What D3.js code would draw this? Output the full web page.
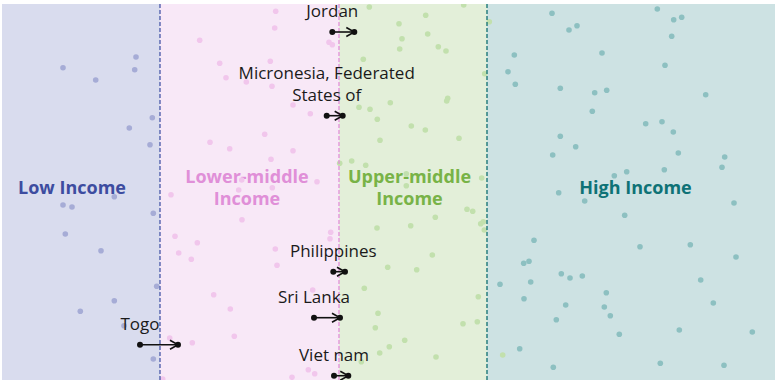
<!DOCTYPE html>
<html><head><meta charset="utf-8">
<script src="https://cdn.jsdelivr.net/npm/d3@7"></script>
<style>body{margin:0;background:#fff}svg{display:block}</style>
</head><body><div id="chart"></div>
<script>
// Income groups (band edges in chart x-units)
const groups = ["Low Income", "Lower-middle Income", "Upper-middle Income", "High Income"];
const groupLabels = [["Low Income"], ["Lower-middle", "Income"], ["Upper-middle", "Income"], ["High Income"]];
const groupLabelX = [72, 247, 409.5, 635.5];
const bandEdges = [2, 160, 339, 487, 775];
const bandFill = ["#d9dcee", "#f8e8f7", "#e3efd9", "#cde2e3"];
const dotFill = ["#a6acd6", "#f1c6ec", "#c2e0ad", "#8dc0c1"];
const lineColor = ["#4757a8", "#e08fd8", "#0f6f72"];
const labelColor = ["#3d4ca0", "#e08fd8", "#78b347", "#0e7276"];

// Country dots: [x, y], per group
const lowDots = [[63,67.7],[95.7,80],[136,57],[134.7,69.7],[152.3,117.7],[129.3,128],[150,144.7],[114.3,196.7],[63,205],[72,207],[153.3,213.3],[65.3,234],[101,250.7],[156.7,286.3],[114.3,300.7],[80.3,311.3],[124,325.7],[153.3,359]];
const lowerMiddleDots = [[199.7,40.3],[219.7,63.3],[226,77.7],[246.3,82],[210,142.3],[229.7,148.7],[241.7,180],[171,194.7],[238.7,190],[242,219.7],[175,236.3],[197.3,242.7],[178.7,253],[191.3,259.3],[213.7,294.7],[230.3,309],[169.7,338],[192.3,342.7],[234.3,336.3],[162.7,379],[275.7,11.3],[274.7,28],[329,42.3],[332.3,44.7],[270.3,61.3],[272,86.3],[293,105],[310.3,113.7],[264.7,134.3],[293,150.7],[271,159.3],[317,181.7],[272.3,187.7],[330.7,232.3],[330,238.7],[275.3,249],[277,265.3],[312.7,290],[308.3,369.7],[314.7,373.7],[292,377.3]];
const upperMiddleDots = [[369.3,7],[463.7,5],[425.7,15.3],[399,23.7],[427.7,34],[402,38.7],[399.7,49],[438.3,46.7],[446,51],[363.3,59.3],[484.7,73.7],[489.3,21.7],[447.7,98.3],[446.7,101],[390.3,102.7],[359,107.3],[370,109.3],[377.3,119.3],[411.3,126],[425.3,130],[459,138.3],[380,140.3],[339.7,163.3],[351.7,161],[365.7,165.3],[406.3,173.7],[481.7,178],[406.3,185.7],[467,209.3],[472.7,211.3],[435.3,217.3],[480.7,223.7],[483.3,221.7],[484.3,230],[377,228],[410.7,225.7],[432.3,255],[387.7,267.3],[416.7,269.7],[364.3,288.3],[478.3,296.7],[378,313.3],[375.3,327.7],[463,323.7],[477.3,321.7],[404.7,340.3],[389.3,346.7],[379.7,353],[436,357],[361.3,361.7],[502.7,355]];
const highDots = [[552,13.3],[657.3,9],[673.7,19.7],[681.7,17.3],[569,30],[577,25.7],[671.7,36.3],[514.3,55],[602,53],[508,71.7],[665,65.3],[515.3,84.3],[560.3,88.3],[594.7,92.7],[606.7,90.3],[705.7,94.7],[592.3,111.3],[645.7,123.7],[662,121.7],[673.3,132],[560.3,136.3],[575.7,146.7],[552.7,155],[678.3,153],[724.7,157],[722,167.3],[664.3,169.7],[626.7,171.7],[614.3,175.7],[558.7,192.7],[584.7,201],[734,203],[624.7,215.3],[534,240.3],[640,246.7],[690.3,244.7],[736,257],[523.7,263.3],[529,261.3],[561.3,273.7],[570,278],[582.3,276],[700.7,280],[500,284.3],[530.7,282],[606.3,292.7],[524,298.7],[565.7,305],[604.3,307],[713.3,303],[610.3,315.7],[556.3,319.7],[619.3,334.3],[679.3,330],[752.3,332],[519.7,348.7],[660.3,363.3],[553.3,367.3],[724,365.3]];
const dotSets = [lowDots, lowerMiddleDots, upperMiddleDots, highDots];

// Countries that changed group: name lines, from x, to x, y
const movers = ["Jordan", "Micronesia, Federated|States of", "Philippines", "Sri Lanka", "Viet nam", "Togo"];
const moverFrom = [332.3, 326.7, 333.3, 314, 334, 140];
const moverTo = [354.3, 342.7, 345, 340, 348.3, 178];
const moverY = [32, 115.7, 271.7, 317.7, 375.7, 344.7];

const W = 777, H = 380;
const x = d3.scaleLinear().domain([2, 775]).range([2, 775]);
const y = d3.scaleLinear().domain([4, 380]).range([4, 380]);

const svg = d3.select("#chart").append("svg").attr("width", W).attr("height", H);
const defs = svg.append("defs");
defs.append("clipPath").attr("id", "clip").append("rect")
  .attr("x", x(2)).attr("y", y(4)).attr("width", x(775) - x(2)).attr("height", H);

const g = svg.append("g").attr("clip-path", "url(#clip)");

// bands
g.selectAll("rect.band").data(groups).join("rect").attr("class", "band")
  .attr("x", (d, i) => x(bandEdges[i])).attr("y", y(4))
  .attr("width", (d, i) => x(bandEdges[i + 1]) - x(bandEdges[i])).attr("height", H)
  .attr("fill", (d, i) => bandFill[i]);

// group labels
groups.forEach((gname, i) => {
  const cx = x(groupLabelX[i]);
  const lines = groupLabels[i];
  const t = g.append("text").attr("x", cx).attr("text-anchor", "middle")
    .attr("font-family", "Open Sans").attr("font-weight", 700).attr("font-size", 18)
    .attr("fill", labelColor[i]);
  lines.forEach((ln, j) => {
    t.append("tspan").attr("x", cx)
      .attr("y", y(lines.length === 1 ? 194 : 183 + j * 22)).text(ln);
  });
});

// dots
dotSets.forEach((set, i) => {
  g.append("g").selectAll("circle").data(set).join("circle")
    .attr("cx", d => x(d[0])).attr("cy", d => y(d[1])).attr("r", 2.8)
    .attr("fill", dotFill[i]);
});

// dashed separators
[1, 2, 3].forEach((k, i) => {
  g.append("line").attr("x1", x(bandEdges[k])).attr("x2", x(bandEdges[k]))
    .attr("y1", y(4)).attr("y2", H)
    .attr("stroke", lineColor[i]).attr("stroke-width", 1.3).attr("stroke-dasharray", "4,2");
});

// movers
movers.forEach((name, i) => {
  const x0 = x(moverFrom[i]), x1 = x(moverTo[i]), yy = y(moverY[i]);
  const mg = g.append("g");
  mg.append("line").attr("x1", x0).attr("x2", x1).attr("y1", yy).attr("y2", yy)
    .attr("stroke", "#111").attr("stroke-width", 1.6);
  mg.append("path").attr("d", `M${x1 - 8},${yy - 4.5}L${x1},${yy}L${x1 - 8},${yy + 4.5}`)
    .attr("fill", "none").attr("stroke", "#111").attr("stroke-width", 1.6);
  mg.append("circle").attr("cx", x0).attr("cy", yy).attr("r", 3).attr("fill", "#111");
  mg.append("circle").attr("cx", x1).attr("cy", yy).attr("r", 3).attr("fill", "#111");
  const lines = name.split("|");
  const t = mg.append("text").attr("text-anchor", "middle")
    .attr("font-family", "Open Sans").attr("font-size", 17).attr("fill", "#1a1a1a");
  lines.forEach((ln, j) => {
    t.append("tspan").attr("x", x0)
      .attr("y", yy - 15 - (lines.length - 1 - j) * 21.5).text(ln);
  });
});
</script></body></html>
